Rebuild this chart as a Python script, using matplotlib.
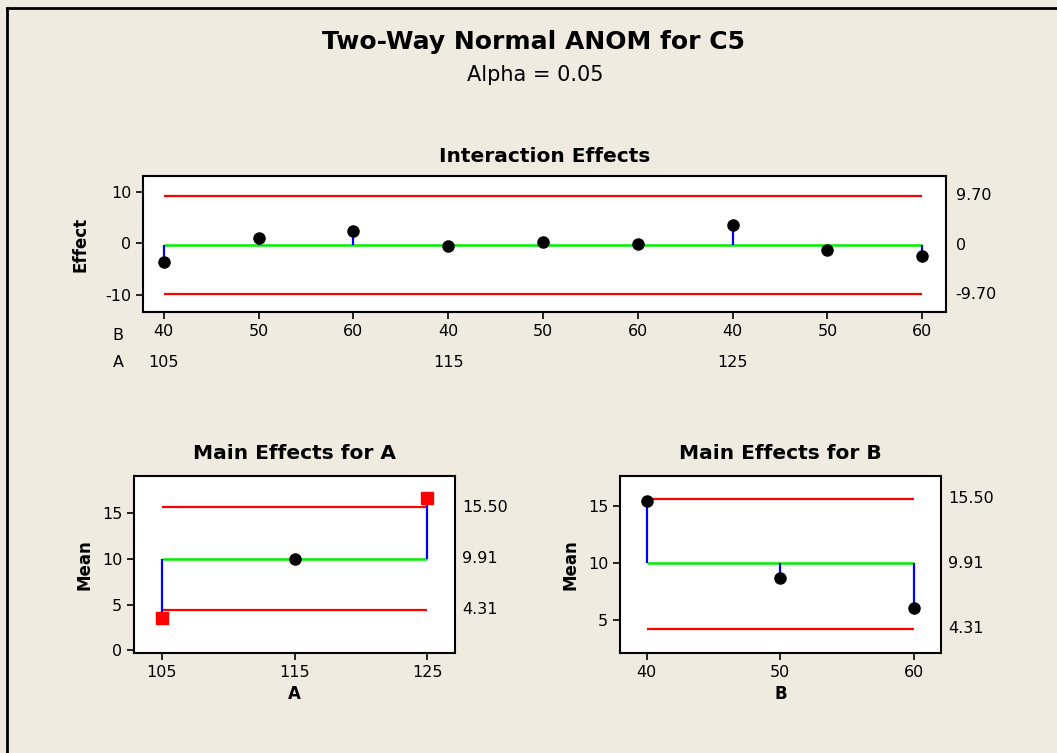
import matplotlib.pyplot as plt
from matplotlib.lines import Line2D
import matplotlib.transforms as mtransforms

# Data
a_levels = [105, 115, 125]
b_levels = [40, 50, 60]
effects = [-3.6, 1.0, 2.5, -0.5, 0.25, -0.15, 3.6, -1.3, -2.5]
effect_center = -0.3
effect_udl = 9.2
effect_ldl = -9.8
effect_labels = ["9.70", "0", "-9.70"]

mean_a = [3.6, 9.97, 16.7]
mean_b = [15.43, 8.72, 6.08]
a_out = [True, False, True]
b_out = [False, False, False]
main_center = 10.0
main_udl = 15.65
main_ldl = 4.45
main_labels = ["15.50", "9.91", "4.31"]

bg = "#efebe1"
plt.rcParams["font.family"] = "DejaVu Sans"
plt.rcParams["axes.unicode_minus"] = False

fig = plt.figure(figsize=(10.57, 7.53), dpi=100, facecolor=bg)

# outer frame
fig.add_artist(Line2D([7 / 1057, 7 / 1057], [0, 1 - 8 / 753], color="black", lw=2, transform=fig.transFigure))
fig.add_artist(Line2D([7 / 1057, 1], [1 - 8 / 753, 1 - 8 / 753], color="black", lw=2, transform=fig.transFigure))

fig.text(533 / 1057, 1 - 42 / 753, "Two-Way Normal ANOM for C5", ha="center", va="center",
         fontsize=18, fontweight="bold")
fig.text(535 / 1057, 1 - 75 / 753, "Alpha = 0.05", ha="center", va="center", fontsize=15)


def style_axes(ax):
    ax.set_facecolor("white")
    for s in ax.spines.values():
        s.set_linewidth(1.5)
        s.set_color("black")
    ax.tick_params(direction="out", length=5, width=1.2, labelsize=11.5, top=False, right=False)


def draw_anom(ax, x, y, center, udl, ldl, out_flags, labels, label_x):
    ax.hlines([udl, ldl], x[0], x[-1], color="#ff0000", lw=1.6, zorder=2)
    ax.hlines(center, x[0], x[-1], color="#00ee00", lw=1.8, zorder=2)
    ax.vlines(x, center, y, color="#0000ff", lw=1.6, zorder=3)
    for xi, yi, o in zip(x, y, out_flags):
        if o:
            ax.plot(xi, yi, marker="s", color="#ff0000", ms=8, zorder=4, ls="none")
        else:
            ax.plot(xi, yi, marker="o", color="black", ms=8, zorder=4, ls="none")
    tr = mtransforms.blended_transform_factory(ax.transAxes, ax.transData)
    for v, s in zip([udl, center, ldl], labels):
        ax.text(label_x, v, s, transform=tr, ha="left", va="center", fontsize=11.5, clip_on=False)


# Interaction effects
ax1 = fig.add_axes([143 / 1057, 1 - 312 / 753, 803 / 1057, 136 / 753])
style_axes(ax1)
idx = list(range(len(a_levels) * len(b_levels)))
draw_anom(ax1, idx, effects, effect_center, effect_udl, effect_ldl,
          [False] * len(effects), effect_labels, 1.012)
ax1.set_xlim(-0.22, 8.25)
ax1.set_ylim(-13.2, 13.0)
ax1.set_yticks([-10, 0, 10])
ax1.set_xticks(idx)
ax1.set_xticklabels([str(b) for a in a_levels for b in b_levels])
ax1.set_ylabel("Effect", fontsize=12, fontweight="bold", labelpad=11)
ax1.set_title("Interaction Effects", fontsize=14.5, fontweight="bold", pad=10)
trx = mtransforms.blended_transform_factory(ax1.transData, ax1.transAxes)
for i, a in enumerate(a_levels):
    ax1.text(i * len(b_levels), -0.37, str(a), transform=trx, ha="center", va="center", fontsize=11.5)
ax1.text(-0.031, -0.17, "B", transform=ax1.transAxes, ha="center", va="center", fontsize=11.5)
ax1.text(-0.031, -0.37, "A", transform=ax1.transAxes, ha="center", va="center", fontsize=11.5)

# Main effects for A
ax2 = fig.add_axes([134 / 1057, 1 - 653 / 753, 321 / 1057, 177 / 753])
style_axes(ax2)
draw_anom(ax2, a_levels, mean_a, main_center, main_udl, main_ldl, a_out, main_labels, 1.022)
ax2.set_xlim(102.9, 127.1)
ax2.set_ylim(-0.28, 19.07)
ax2.set_yticks([0, 5, 10, 15])
ax2.set_xticks(a_levels)
ax2.set_xlabel("A", fontsize=12, fontweight="bold")
ax2.set_ylabel("Mean", fontsize=12, fontweight="bold", labelpad=6)
ax2.set_title("Main Effects for A", fontsize=14.5, fontweight="bold", pad=12)

# Main effects for B
ax3 = fig.add_axes([620 / 1057, 1 - 653 / 753, 321 / 1057, 177 / 753])
style_axes(ax3)
draw_anom(ax3, b_levels, mean_b, main_center, main_udl - 0.05, main_ldl - 0.17, b_out, main_labels, 1.022)
ax3.set_xlim(38.0, 62.05)
ax3.set_ylim(2.17, 17.58)
ax3.set_yticks([5, 10, 15])
ax3.set_xticks(b_levels)
ax3.set_xlabel("B", fontsize=12, fontweight="bold")
ax3.set_ylabel("Mean", fontsize=12, fontweight="bold", labelpad=6)
ax3.set_title("Main Effects for B", fontsize=14.5, fontweight="bold", pad=12)

fig.savefig("out.png", dpi=100, facecolor=bg)
